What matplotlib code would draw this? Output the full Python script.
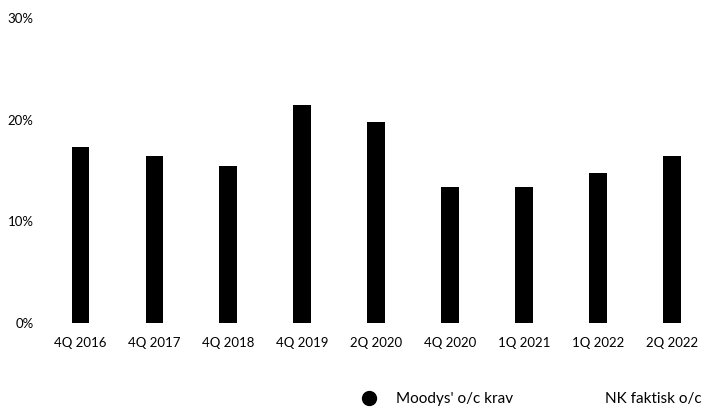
import numpy as np
import matplotlib
matplotlib.use("Agg")
import matplotlib.pyplot as plt
from matplotlib.lines import Line2D

# quarters shown on the x axis
quarters = ["4Q 2016", "4Q 2017", "4Q 2018", "4Q 2019", "2Q 2020",
            "4Q 2020", "1Q 2021", "1Q 2022", "2Q 2022"]
# Moodys' o/c krav (percent)
moodys_oc = [17.3, 16.4, 15.4, 21.4, 19.8, 13.4, 13.4, 14.8, 16.4]
yticks = [0, 10, 20, 30]
ytick_labels = ["0%", "10%", "20%", "30%"]

plt.rcParams['font.family'] = ['Lato', 'DejaVu Sans']

fig = plt.figure(figsize=(7.09, 4.07), dpi=100)
ax = fig.add_axes([0.061, 0.206, 0.939, 0.75])

x = np.arange(len(quarters))
ax.bar(x, moodys_oc, width=0.235, color="black")

ax.set_xlim(-0.5, len(quarters) - 0.5)
ax.set_ylim(0, 30)
ax.set_yticks(yticks)
ax.set_yticklabels(ytick_labels)
ax.set_xticks(x)
ax.set_xticklabels(quarters)
ax.tick_params(axis="both", length=0, labelsize=9.5, colors="black")
ax.tick_params(axis="x", pad=10)
ax.tick_params(axis="y", pad=7)
for s in ax.spines.values():
    s.set_visible(False)

# legend: second series has no visible marker
handles = [
    Line2D([], [], linestyle="none", marker="o", markersize=10, color="black"),
    Line2D([], [], linestyle="none", marker="o", markersize=10, color="white"),
]
fig.legend(handles, ["Moodys' o/c krav", "NK faktisk o/c"], ncol=2,
           loc="center left", bbox_to_anchor=(361 / 709, 8 / 407),
           frameon=False, fontsize=11, handlelength=1.0, handletextpad=1.3,
           columnspacing=3.7, borderpad=0, borderaxespad=0)

fig.savefig("out.png", dpi=100)
